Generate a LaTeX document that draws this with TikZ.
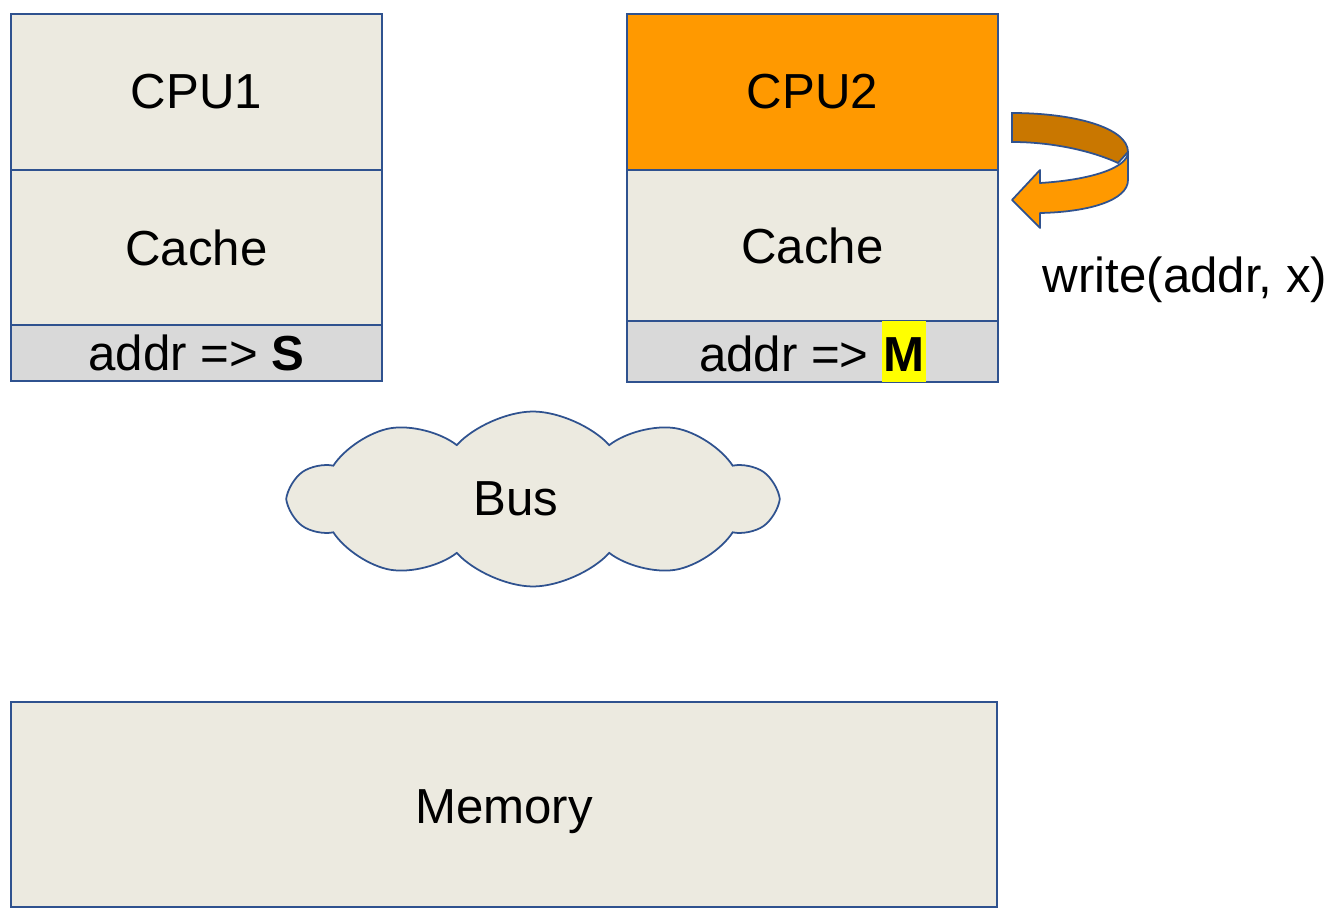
\documentclass[tikz,border=0pt]{standalone}
\usepackage{fontspec}
\setmainfont{Liberation Sans}
\usetikzlibrary{positioning,shapes.symbols}
\definecolor{boxfill}{RGB}{236,234,224}
\definecolor{boxline}{RGB}{47,82,143}
\definecolor{statefill}{RGB}{217,217,217}
\definecolor{cpuorange}{RGB}{255,153,0}
\definecolor{loopdark}{RGB}{201,119,0}
\definecolor{hlyellow}{RGB}{255,255,0}
\newcommand{\diagfont}{\fontsize{28}{34}\selectfont}
\newcommand{\hlstate}[1]{{\setlength{\fboxsep}{0.6pt}\colorbox{hlyellow}{\rule[-5.7pt]{0pt}{33.6pt}\textbf{#1}}}}
\tikzset{
    block/.style = {rectangle, minimum width=7.42cm, minimum height=3.12cm, text centered, draw=boxline, fill=boxfill, line width=1pt, font=\diagfont, inner sep=0pt, outer sep=0pt},
    staterow/.style = {block, fill=statefill, minimum height=1.12cm},
    bus/.style = {cloud, cloud puffs=10, cloud puff arc=95, draw=boxline, fill=boxfill, line width=1pt, minimum width=9.7cm, minimum height=3.5cm},
    note/.style = {font=\diagfont, inner sep=0pt}
}

\begin{document}
\begin{tikzpicture}[x=0.02cm, y=-0.02cm]
\useasboundingbox (0,0) rectangle (1340,922);
\node (cpu1) [block, anchor=north west] at (11,14) {CPU1};
\node (cache1) [block, minimum height=3.1cm, below=0pt of cpu1] {Cache};
\node (state1) [staterow, below=0pt of cache1] {addr => \textbf{S}};
\node (cpu2) [block, fill=cpuorange, right=4.9cm of cpu1] {CPU2};
\node (cache2) [block, minimum height=3.02cm, below=0pt of cpu2] {Cache};
\node (state2) [staterow, minimum height=1.2cm, below=0pt of cache2] {addr => \hlstate{M}};
\node (bus) [bus, label={[note, xshift=-0.34cm]center:Bus}] at (533,499) {};
\node (memory) [block, anchor=north west, minimum width=19.72cm, minimum height=4.1cm] at (11,702) {\rule{0pt}{27pt}Memory};
\node (write) [note] at (1185,280) {write(addr, x)};

% self write loop on CPU2
\draw [boxline, line width=1pt, fill=loopdark] (1012,113) .. controls (1075,113) and (1128,128) .. (1128,152) -- (1118,163) .. controls (1090,150) and (1050,142) .. (1012,142) -- cycle;
\draw [boxline, line width=1pt, fill=cpuorange, line join=round] (1040,183) .. controls (1090,180) and (1128,168) .. (1128,152) -- (1128,180) .. controls (1128,200) and (1090,212) .. (1040,213) -- (1040,228) -- (1012,200) -- (1040,170) -- cycle;
\end{tikzpicture}
\end{document}
